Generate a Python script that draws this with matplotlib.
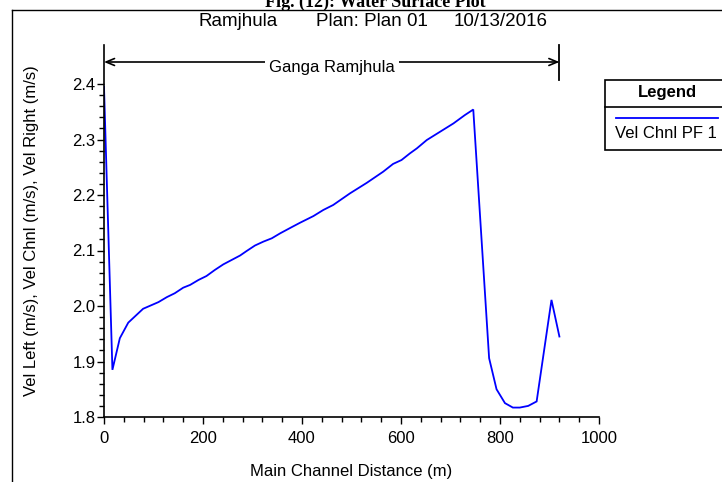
import matplotlib
matplotlib.use("Agg")
import matplotlib.pyplot as plt
from matplotlib.ticker import MultipleLocator, FormatStrFormatter
from matplotlib.lines import Line2D
from matplotlib.patches import Rectangle

plt.rcParams['font.family'] = ['Liberation Sans', 'DejaVu Sans']

# ---- data ----
distance_m = [0, 17, 32, 49, 79, 110, 127, 143, 160, 174, 191, 207, 224, 241,
              258, 275, 288, 305, 322, 339, 356, 379, 396, 423, 443, 463, 497,
              531, 564, 584, 601, 618, 632, 652, 679, 706, 729, 746, 778, 793,
              810, 826, 840, 857, 874, 904, 920]
vel_chnl = [2.395, 1.885, 1.942, 1.970, 1.995, 2.007, 2.016, 2.023, 2.033,
            2.038, 2.047, 2.054, 2.065, 2.075, 2.083, 2.091, 2.099, 2.109,
            2.116, 2.122, 2.131, 2.142, 2.150, 2.162, 2.173, 2.182, 2.203,
            2.222, 2.242, 2.256, 2.263, 2.275, 2.284, 2.299, 2.314, 2.329,
            2.344, 2.354, 1.906, 1.850, 1.825, 1.817, 1.817, 1.820, 1.828,
            2.011, 1.945]
x_ticks = [0, 200, 400, 600, 800, 1000]
y_ticks = [1.8, 1.9, 2.0, 2.1, 2.2, 2.3, 2.4]
reach_start, reach_end = 0, 920
reach_name = "Ganga Ramjhula"
series_name = "Vel Chnl PF 1"

W, H = 722, 482
fig = plt.figure(figsize=(W / 100, H / 100), dpi=100)

def fx(px):
    return px / W

def fy(py):
    return 1 - py / H

# axes placement
ax_l, ax_r, ax_t, ax_b = 104, 599, 45, 417
ax = fig.add_axes([fx(ax_l), fy(ax_b), fx(ax_r) - fx(ax_l), fy(ax_t) - fy(ax_b)])
y_top = 2.4 + (84 - 45) / 555.0
ax.set_xlim(0, 1000)
ax.set_ylim(1.8, y_top)

ax.plot(distance_m, vel_chnl, color='#0000ff', lw=1.3, solid_joinstyle='miter')

for s in ['top', 'right']:
    ax.spines[s].set_visible(False)
for s in ['left', 'bottom']:
    ax.spines[s].set_linewidth(1.2)
    ax.spines[s].set_color('black')

ax.set_xticks(x_ticks)
ax.set_yticks(y_ticks)
ax.xaxis.set_minor_locator(MultipleLocator(40))
ax.set_yticks([1.8 + 0.02 * i for i in range(31)], minor=True)
ax.yaxis.set_major_formatter(FormatStrFormatter('%.1f'))
ax.tick_params(axis='both', which='major', direction='out', length=5, width=1.0,
               labelsize=12, colors='black')
ax.tick_params(axis='both', which='minor', direction='out', length=3.5, width=1.0)
ax.tick_params(axis='y', which='major', pad=1)
ax.tick_params(axis='x', which='major', pad=5)

ax.set_xlabel("Main Channel Distance (m)", fontsize=12, labelpad=13)
ax.set_ylabel("Vel Left (m/s), Vel Chnl (m/s), Vel Right (m/s)", fontsize=12, labelpad=24)

# reach bracket
y_arrow = 2.4 + (84 - 62) / 555.0
y_bar_bot = 2.4 + (84 - 80) / 555.0
ax.plot([reach_end, reach_end], [y_bar_bot, y_top], color='black', lw=1.3, clip_on=False)
ax.annotate('', xy=(reach_start, y_arrow), xytext=(reach_end, y_arrow),
            arrowprops=dict(arrowstyle='<->,head_length=0.6,head_width=0.25',
                            color='black', lw=1.2, shrinkA=0, shrinkB=0),
            annotation_clip=False)
ax.text((reach_start + reach_end) / 2, y_arrow - 0.010, reach_name, fontsize=12,
        ha='center', va='center',
        bbox=dict(facecolor='white', edgecolor='none', pad=3))

# plot title (three parts)
fig.text(fx(238), fy(22), "Ramjhula", fontsize=13.5, ha='center', va='center')
fig.text(fx(372), fy(22), "Plan: Plan 01", fontsize=13.5, ha='center', va='center')
fig.text(fx(501), fy(22), "10/13/2016", fontsize=13.5, ha='center', va='center')

# figure caption (partly above the visible area, as in the reference)
fig.text(fx(375), fy(7), "Fig. (12): Water Surface Plot", fontsize=13,
         family=['Liberation Serif', 'DejaVu Serif'], weight='bold',
         ha='center', va='baseline')

# outer frame
fig.add_artist(Line2D([fx(12), fx(12)], [fy(10), 0], transform=fig.transFigure,
                      color='black', lw=1.0))
fig.add_artist(Line2D([fx(12), 1], [fy(10), fy(10)], transform=fig.transFigure,
                      color='black', lw=1.0))

# legend box
lg_l, lg_r, lg_t, lg_b, lg_div = 605, 740, 80, 150, 107
fig.add_artist(Rectangle((fx(lg_l), fy(lg_b)), fx(lg_r) - fx(lg_l), fy(lg_t) - fy(lg_b),
                         transform=fig.transFigure, facecolor='white',
                         edgecolor='black', lw=1.2))
fig.add_artist(Line2D([fx(lg_l), fx(lg_r)], [fy(lg_div), fy(lg_div)],
                      transform=fig.transFigure, color='black', lw=1.2))
fig.text(fx(667), fy(93), "Legend", fontsize=12, weight='bold', ha='center', va='center')
fig.add_artist(Line2D([fx(616), fx(718)], [fy(118), fy(118)],
                      transform=fig.transFigure, color='#0000ff', lw=1.3))
fig.text(fx(615), fy(133), series_name, fontsize=12, ha='left', va='center')

fig.savefig("out.png", dpi=100)
